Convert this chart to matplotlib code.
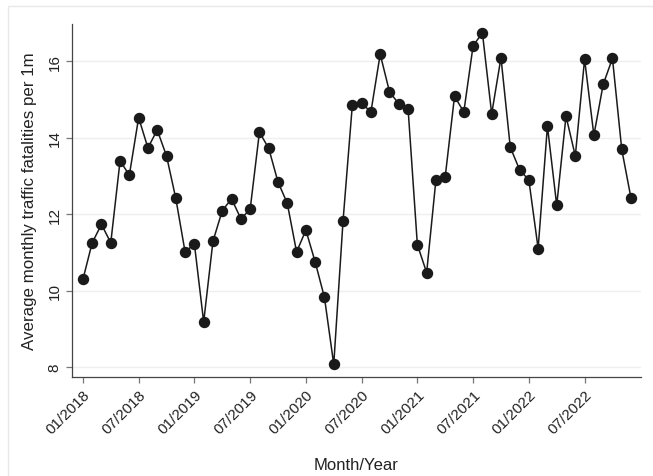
import numpy as np
import matplotlib
matplotlib.use("Agg")
import matplotlib.pyplot as plt
from matplotlib.patches import Rectangle

plt.rcParams['font.family'] = ['Liberation Sans', 'DejaVu Sans']

# monthly values, 01/2018 .. 12/2022
fatalities = [
    10.29, 11.25, 11.73, 11.25, 13.39, 13.02, 14.52, 13.73, 14.20, 13.52, 12.41, 11.01,  # 2018
    11.22, 9.18, 11.29, 12.09, 12.40, 11.88, 12.12, 14.14, 13.72, 12.84, 12.28, 11.01,   # 2019
    11.58, 10.75, 9.82, 8.07, 11.82, 14.85, 14.90, 14.67, 16.18, 15.20, 14.88, 14.76,    # 2020
    11.20, 10.47, 12.90, 12.98, 15.08, 14.67, 16.40, 16.74, 14.62, 16.09, 13.75, 13.16,  # 2021
    12.89, 11.10, 14.30, 12.23, 14.56, 13.52, 16.05, 14.06, 15.39, 16.07, 13.69, 12.41,  # 2022
]
tick_labels = ["01/2018", "07/2018", "01/2019", "07/2019", "01/2020",
               "07/2020", "01/2021", "07/2021", "01/2022", "07/2022"]
y_ticks = [8, 10, 12, 14, 16]

months = np.arange(len(fatalities))

fig = plt.figure(figsize=(6.53, 4.77), dpi=100)
ax = fig.add_axes([0.1103, 0.2075, 0.8713, 0.7401])

# light frame around the graph region
fig.patches.append(Rectangle((8 / 653, -0.1), 2, 1.1 - 7 / 477, transform=fig.transFigure,
                             fill=False, edgecolor="#e8e8e8", linewidth=1.0))

ax.plot(months, fatalities, color="#1a1a1a", linewidth=1.1, marker="o",
        markersize=7.2, markerfacecolor="#1a1a1a", markeredgecolor="#1a1a1a")

ax.set_xlim(-1.17, len(fatalities) - 1 + 1.07)
ax.set_ylim(7.74, 16.97)
ax.set_xticks(months[::6])
ax.set_xticklabels(tick_labels, rotation=45, ha="right", rotation_mode="anchor", fontsize=11)
ax.set_yticks(y_ticks)
ax.set_yticklabels([str(v) for v in y_ticks], rotation=90, va="center", fontsize=11)

for v in y_ticks:
    ax.axhline(v, color="#efefef", linewidth=1.0, zorder=0)

for side in ["top", "right"]:
    ax.spines[side].set_visible(False)
for side in ["left", "bottom"]:
    ax.spines[side].set_color("#444444")
    ax.spines[side].set_linewidth(0.9)
ax.tick_params(axis="both", direction="out", length=4.5, width=0.9, color="#777777",
               labelcolor="#222222", pad=3)

ax.set_ylabel("Average monthly traffic fatalities per 1m", fontsize=12.2, color="#222222",
              va="center")
ax.yaxis.set_label_coords(-0.0756, 0.5)
ax.set_xlabel("Month/Year", fontsize=12, color="#222222", va="center")
ax.xaxis.set_label_coords(0.5, -0.249)

fig.savefig("out.png", dpi=100)
